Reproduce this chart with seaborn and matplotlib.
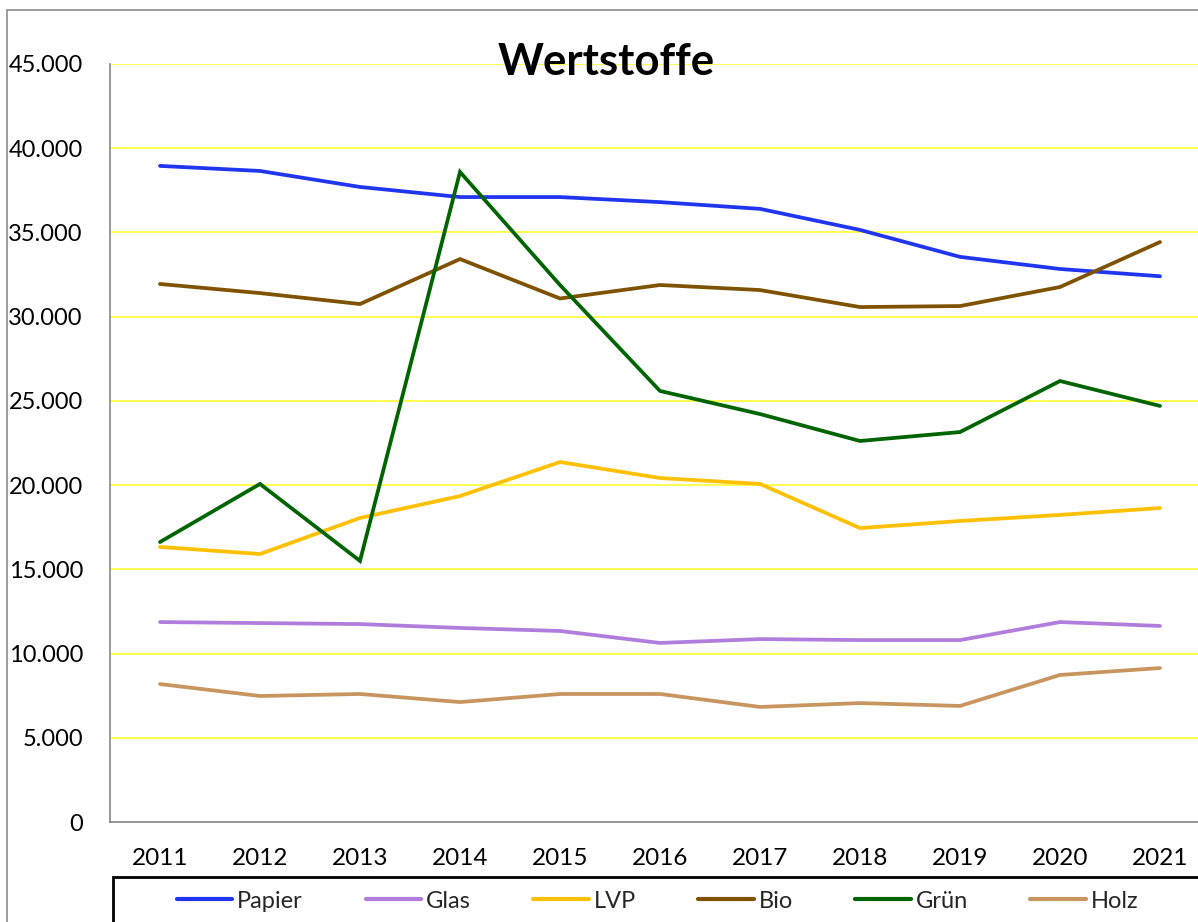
import matplotlib
matplotlib.use("Agg")
import matplotlib.pyplot as plt
import matplotlib.patches as mpatches
from matplotlib.ticker import FuncFormatter, FixedLocator
import seaborn as sns
import pandas as pd

years = ["2011", "2012", "2013", "2014", "2015", "2016", "2017", "2018", "2019", "2020", "2021"]
papier = [38950, 38650, 37700, 37100, 37100, 36800, 36400, 35150, 33550, 32830, 32400]
glas = [11870, 11810, 11750, 11520, 11340, 10630, 10860, 10800, 10800, 11870, 11640]
lvp = [16330, 15910, 18050, 19350, 21370, 20420, 20070, 17450, 17870, 18230, 18640]
bio = [31940, 31400, 30750, 33420, 31080, 31880, 31580, 30570, 30630, 31760, 34430]
gruen = [16620, 20070, 15500, 38590, 31880, 25590, 24220, 22620, 23150, 26180, 24700]
holz = [8190, 7480, 7600, 7120, 7600, 7600, 6830, 7060, 6890, 8730, 9140]

series_names = ["Papier", "Glas", "LVP", "Bio", "Grün", "Holz"]
series_values = [papier, glas, lvp, bio, gruen, holz]
colors = ["#1F35F0", "#B07DDD", "#FFC000", "#7F5200", "#006400", "#C8955E"]
title = "Wertstoffe"

rows = []
for name, vals in zip(series_names, series_values):
    for i, v in enumerate(vals):
        rows.append({"pos": i, "Jahr": years[i], "Serie": name, "Wert": v})
df = pd.DataFrame(rows)

sns.set_style("white")
plt.rcParams["font.family"] = ["Lato", "DejaVu Sans"]

W, H = 1198, 922
fig = plt.figure(figsize=(W / 100, H / 100), dpi=100)
ax = fig.add_axes([110 / W, 1 - 822 / H, 1100 / W, (822 - 64) / H])

sns.lineplot(data=df, x="pos", y="Wert", hue="Serie", hue_order=series_names,
             palette=dict(zip(series_names, colors)), linewidth=2.7, ax=ax,
             legend=False, zorder=3)
for ln in ax.get_lines():
    ln.set_solid_capstyle("round")
    ln.set_solid_joinstyle("miter")

ax.set_xlim(-0.5, len(years) - 0.5)
ax.set_ylim(0, 45000)
ax.set_xlabel("")
ax.set_ylabel("")

ax.set_xticks(range(len(years)))
ax.set_xticklabels(years)
ax.xaxis.set_minor_locator(FixedLocator([i - 0.5 for i in range(len(years) + 1)]))
ax.tick_params(axis="x", which="major", length=0, pad=19, labelsize=17.5, colors="black")
ax.tick_params(axis="x", which="minor", length=5, width=1, color="#868686", direction="out")
ax.set_yticks(range(0, 45001, 5000))
ax.yaxis.set_major_formatter(FuncFormatter(lambda v, p: f"{int(v):,}".replace(",", ".")))
ax.tick_params(axis="y", which="major", length=5, width=1, color="#868686", direction="out",
               pad=14.5, labelsize=17, labelcolor="black")

for y in range(5000, 45001, 5000):
    ax.axhline(y, color="#FFFF30", linewidth=1.2, zorder=1)

for s in ["top", "right"]:
    ax.spines[s].set_visible(False)
for s in ["left", "bottom"]:
    ax.spines[s].set_color("#868686")
    ax.spines[s].set_linewidth(1.2)

fig.text(606 / W, 1 - 62 / H, title, ha="center", va="center",
         fontsize=31.5, fontweight="bold", color="black")

# outer chart border
fig.patches.append(mpatches.Rectangle((7 / W, -0.1), 1.2, 1 - 10 / H + 0.1,
                                      transform=fig.transFigure, fill=False,
                                      edgecolor="#8C8C8C", linewidth=1.2))
# legend frame
fig.patches.append(mpatches.Rectangle((113 / W, -0.1), 1.2, 1 - 877 / H + 0.1,
                                      transform=fig.transFigure, fill=False,
                                      edgecolor="black", linewidth=2.0))

handles = [plt.Line2D([], [], color=c, linewidth=3) for c in colors]
fig.legend(handles, series_names, loc="center left",
           bbox_to_anchor=(177 / W, 1 - 901 / H), ncol=6, frameon=False,
           fontsize=17, handlelength=2.35, handletextpad=0.2, columnspacing=2.65,
           borderpad=0, borderaxespad=0)

fig.savefig("out.png", dpi=100)
